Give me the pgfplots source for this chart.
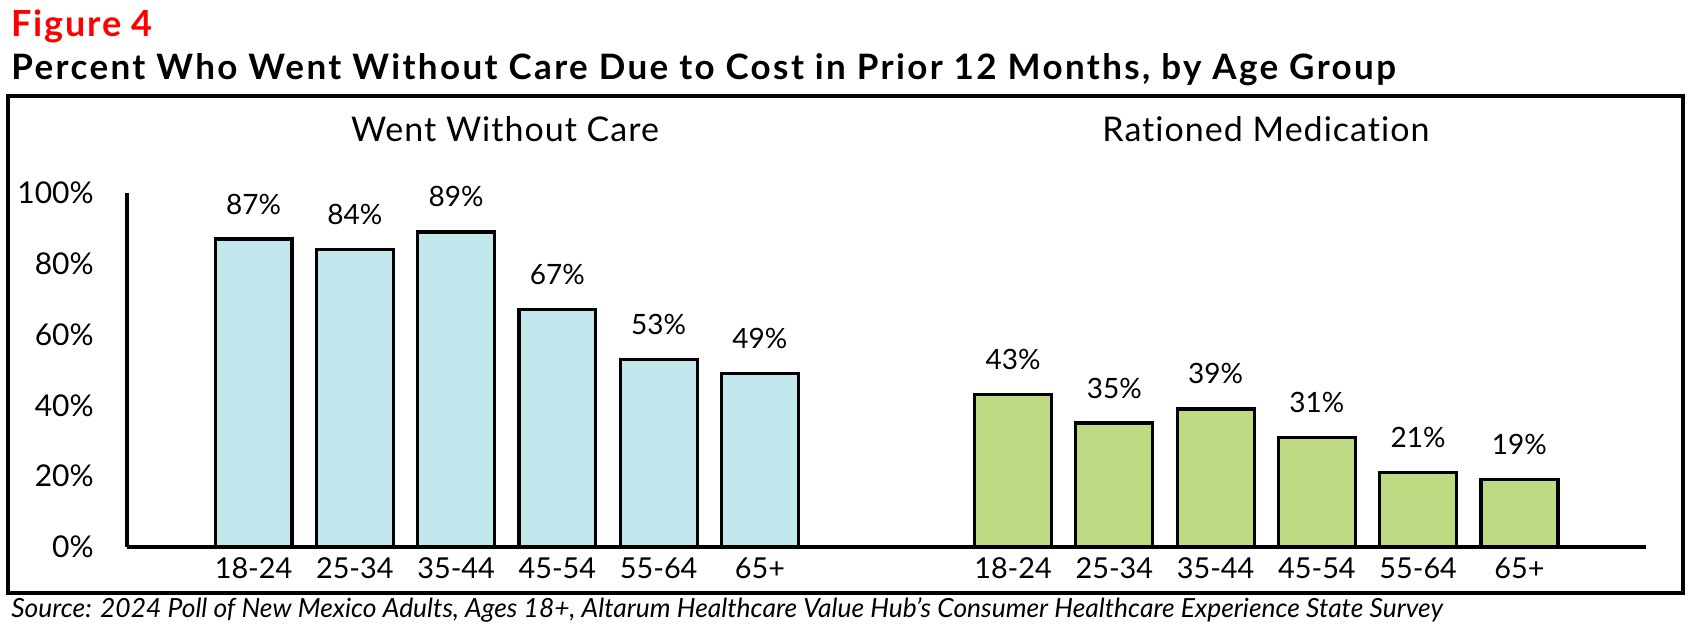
\documentclass[border=0pt]{standalone}
\usepackage{fontspec}
\setmainfont{Lato}[Ligatures=NoCommon]
\newfontfamily\figfont{Lato}[Ligatures=NoCommon, LetterSpace=5]
\newfontfamily\titlefont{Lato}[Ligatures=NoCommon, LetterSpace=6.8]
\newfontfamily\subfont{Lato}[Ligatures=NoCommon, LetterSpace=3]
\usepackage{pgfplots}
\pgfplotsset{compat=1.18}
\definecolor{bluebar}{RGB}{193,230,235}
\definecolor{greenbar}{RGB}{190,219,132}
\definecolor{figred}{RGB}{255,0,0}
\begin{document}
\begin{tikzpicture}
\begin{scope}[x=0.5pt,y=-0.5pt,shift={(-63.5pt,273.5pt)}]
\path[use as bounding box] (0,0) rectangle (1693,632);
\end{scope}
\begin{axis}[at={(0,0)}, anchor=south west, scale only axis,
 width=759.5pt, height=177pt,
 xmin=-1.25, xmax=13.75, ymin=0, ymax=100,
 axis x line=bottom, axis y line=left,
 axis line style={-, line width=1.6pt, black},
 xtick={0,1,2,3,4,5,7.5,8.5,9.5,10.5,11.5,12.5},
 xticklabels={18-24,25-34,35-44,45-54,55-64,65+,18-24,25-34,35-44,45-54,55-64,65+},
 ytick={0,20,...,100},
 yticklabel={\pgfmathprintnumber[assume math mode=true]{\tick}\%},
 major tick length=0pt,
 tick style={draw=none},
 xticklabel style={font=\fontsize{14.4pt}{16pt}\selectfont, inner sep=0pt, anchor=north, yshift=-5pt},
 yticklabel style={font=\fontsize{15pt}{18pt}\selectfont, inner sep=0pt, anchor=east, xshift=-16.5pt},
 ybar, bar width=0.76, bar shift=0pt,
 point meta=y,
 nodes near coords={\pgfmathprintnumber[assume math mode=true]{\pgfplotspointmeta}\%},
 nodes near coords style={font=\fontsize{14pt}{16pt}\selectfont, anchor=base, inner sep=0pt, yshift=12.5pt, text=black},
 clip=false,
]
\addplot[draw=black, line width=1.6pt, fill=bluebar] coordinates {(0,87) (1,84) (2,89) (3,67) (4,53) (5,49)};
\addplot[draw=black, line width=1.6pt, fill=greenbar] coordinates {(7.5,43) (8.5,35) (9.5,39) (10.5,31) (11.5,21) (12.5,19)};
\end{axis}
\begin{scope}[x=0.5pt,y=-0.5pt,shift={(-63.5pt,273.5pt)}]
\node[anchor=base west, inner sep=0pt, text=figred, font=\figfont\bfseries\fontsize{18pt}{20pt}\selectfont] at (11,37) {Figure 4};
\node[anchor=base west, inner sep=0pt, font=\titlefont\bfseries\fontsize{17.5pt}{20pt}\selectfont] at (11,80) {Percent Who Went Without Care Due to Cost in Prior 12 Months, by Age Group};
\draw[line width=2.2pt] (8,96) rectangle (1683,593);
\node[anchor=base, inner sep=0pt, font=\subfont\fontsize{17pt}{20pt}\selectfont] at (505,142) {Went Without Care};
\node[anchor=base, inner sep=0pt, font=\subfont\fontsize{17pt}{20pt}\selectfont] at (1266,142) {Rationed Medication};
\node[anchor=base west, inner sep=0pt, font=\itshape\fontsize{13.2pt}{15pt}\selectfont] at (11,617) {Source: 2024 Poll of New Mexico Adults, Ages 18+, Altarum Healthcare Value Hub's Consumer Healthcare Experience State Survey};
\end{scope}
\end{tikzpicture}
\end{document}
